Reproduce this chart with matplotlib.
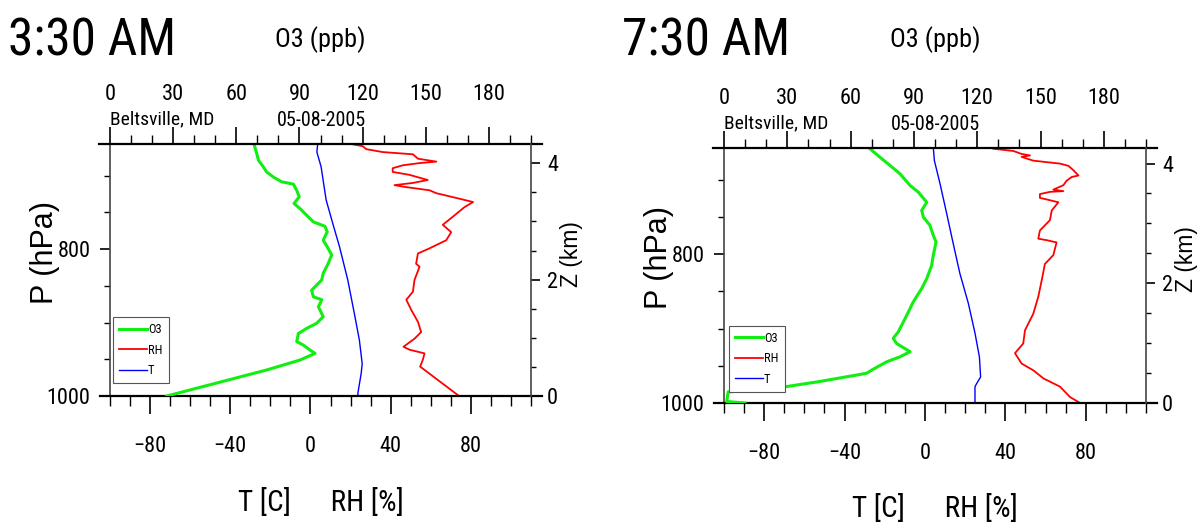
import matplotlib.pyplot as plt
from matplotlib.ticker import MultipleLocator, FixedLocator

# narrow face first, whichever of them is installed
plt.rcParams['font.family'] = ['Roboto Condensed', 'Liberation Sans Narrow', 'DejaVu Sans']
plt.rcParams['font.stretch'] = 'condensed'

# ---- 3:30 AM profile (pressure in hPa) ----
am3_o3_p = [657, 670, 679, 688, 695, 702, 708.5, 711.6, 720, 729, 738, 745, 754, 763, 769, 776.5,
            788, 797, 808, 819.5, 833, 842, 856, 865, 869, 878.5, 892, 901, 908, 915, 926, 930.6,
            937.4, 942, 951, 964.6, 1000]
am3_o3 = [68.4, 69.7, 70.5, 72.8, 74.4, 77.6, 81.6, 87.1, 88.7, 89.9, 87.4, 90.3, 93.4, 96.6, 102.1, 103.2,
          101.3, 103.2, 105.3, 103.7, 101.3, 100.6, 95.8, 96.6, 100.6, 99.0, 101.3, 98.2, 93.4, 89.5, 88.7, 91.8,
          95.0, 97.4, 90.3, 74.4, 27]
am3_t_p = [657, 668, 688, 733, 765, 797, 842, 888, 924, 956, 969, 997, 1000]
am3_t = [3.6, 3.2, 5.3, 7.8, 11.1, 14.5, 18.6, 21.9, 24.4, 25.8, 25.3, 23.6, 23.8]
am3_rh_p = [657, 660, 664, 668, 671, 677, 681, 683, 686, 690, 695, 699, 706, 710, 713, 715,
            720, 724, 731, 736, 743, 756, 767, 777, 788, 799, 806, 820, 824, 842, 858, 869,
            883, 899, 913, 922, 933, 937, 942, 951, 960, 1000]
am3_rh = [20.3, 26.1, 27.8, 36.1, 51.1, 53.6, 62.8, 54.4, 46.0, 41.0, 41.0, 49.4, 58.5, 51.1, 41.9, 46.0,
          59.4, 62.8, 73.6, 81.1, 76.8, 71.0, 66.0, 70.2, 67.7, 59.4, 53.6, 52.7, 54.4, 51.9, 51.1, 47.8,
          50.3, 53.6, 55.2, 51.9, 46.4, 49.4, 56.9, 56.0, 54.7, 74.1]

# ---- 7:30 AM profile ----
am7_o3_p = [658, 669.4, 680.5, 691.7, 707.4, 716.4, 730, 741, 750, 761, 774.5, 783.5, 801.3, 815,
            832.6, 846, 864, 877.5, 891, 904.3, 913, 920, 931, 937.9, 944.6, 954.4, 960, 971, 982,
            985, 998, 1000]
am7_o3 = [69.2, 73.9, 78.7, 83.4, 88.2, 92.1, 96.1, 93.7, 94.5, 97.6, 99.2, 100.5, 99.2, 98.4,
          96.1, 93.7, 89.7, 87.4, 85.0, 82.6, 80.2, 81.8, 88.2, 83.4, 77.1, 70.8, 67.6, 45.5, 20.2,
          2.0, 1.3, 10]
am7_t_p = [658, 674, 705, 745, 786, 826, 866, 906, 938, 965, 974, 978, 1000]
am7_t = [4.2, 4.7, 7.5, 10.8, 14.1, 17.4, 21.6, 24.9, 27.1, 27.7, 25.7, 24.9, 24.9]
am7_rh_p = [658, 661, 665, 667, 669, 674, 678, 681, 687, 694, 696, 701, 707, 713, 715, 716,
            719, 724, 730, 741, 754, 768, 779, 781, 784, 801, 813, 835, 857, 880, 902, 920,
            933, 947, 956, 967, 978, 992, 1000]
am7_rh = [34.0, 44.0, 48.1, 52.3, 48.1, 53.9, 67.2, 71.4, 73.9, 76.4, 73.0, 70.5, 68.9, 63.9, 68.9, 62.2,
          57.2, 57.2, 66.4, 63.1, 62.2, 57.2, 56.4, 60.6, 65.5, 63.9, 59.7, 58.1, 56.4, 53.9, 49.8, 48.9,
          44.8, 48.1, 53.9, 59.0, 67.2, 72.2, 77.2]

W, H = 1200, 529
fig = plt.figure(figsize=(12, 5.29), dpi=100)


def fx(x):
    return x / W


def fy(y):
    return 1 - y / H


def draw_panel(box, ztop, title, o3_p, o3, rh_p, rh, t_p, t, leg_anchor):
    x0, y0, x1, y1 = box
    ax = fig.add_axes([fx(x0), fy(y1), (x1 - x0) / W, (y1 - y0) / H])

    # bottom axis: T and RH
    l_rh, = ax.plot(rh, rh_p, color='#ff0000', lw=1.3, label='RH')
    l_t, = ax.plot(t, t_p, color='#0000ff', lw=1.0, label='T')
    ax.set_xlim(-100, 110)
    ax.set_ylim(1000, 657)
    ax.xaxis.set_major_locator(FixedLocator([-80, -40, 0, 40, 80]))
    ax.xaxis.set_minor_locator(MultipleLocator(10))
    ax.yaxis.set_major_locator(FixedLocator([800, 1000]))
    ax.yaxis.set_minor_locator(MultipleLocator(50))
    ax.tick_params(axis='x', which='major', direction='out', length=13, width=1.2, pad=16, labelsize=16)
    ax.tick_params(axis='x', which='minor', direction='out', length=7, width=1)
    ax.tick_params(axis='y', which='major', direction='out', length=7, width=1.2, pad=7, labelsize=16)
    ax.tick_params(axis='y', which='minor', direction='out', length=4, width=1)
    ax.spines['top'].set_visible(False)
    ax.spines['right'].set_visible(False)
    ax.spines['bottom'].set_linewidth(1.6)
    ax.spines['bottom'].set_bounds(-105, 115.5)
    ax.spines['left'].set_linewidth(1.2)
    ax.spines['left'].set_color('#444444')

    # top axis: O3
    ax_top = ax.twiny()
    l_o3, = ax_top.plot(o3, o3_p, color='#11ee11', lw=2.2, label='O3')
    ax_top.set_xlim(0, 200)
    ax_top.xaxis.set_major_locator(FixedLocator([0, 30, 60, 90, 120, 150, 180]))
    ax_top.xaxis.set_minor_locator(MultipleLocator(10))
    ax_top.tick_params(axis='x', which='major', direction='out', length=12, width=1.2, pad=16, labelsize=16)
    ax_top.tick_params(axis='x', which='minor', direction='out', length=6.5, width=1)
    for s in ['bottom', 'left', 'right']:
        ax_top.spines[s].set_visible(False)
    ax_top.spines['top'].set_linewidth(1.6)
    ax_top.spines['top'].set_bounds(-5, 205)

    # right axis: height
    ax_z = ax.twinx()
    ax_z.set_ylim(0, ztop)
    ax_z.yaxis.set_major_locator(FixedLocator([0, 2, 4]))
    ax_z.yaxis.set_minor_locator(MultipleLocator(0.5))
    ax_z.tick_params(axis='y', which='major', direction='out', length=6.5, width=1.2, pad=5, labelsize=16)
    ax_z.tick_params(axis='y', which='minor', direction='out', length=3.6, width=1)
    for s in ['bottom', 'left', 'top']:
        ax_z.spines[s].set_visible(False)
    ax_z.spines['right'].set_linewidth(1.2)
    ax_z.spines['right'].set_color('#444444')

    leg = ax_z.legend(handles=[l_o3, l_rh, l_t], loc='lower left', bbox_to_anchor=leg_anchor,
                      fontsize=9, handlelength=2.2, handletextpad=0.1, labelspacing=0.6,
                      borderaxespad=0, fancybox=False, framealpha=1, borderpad=0.5)
    leg.get_frame().set_edgecolor('#555555')
    leg.get_frame().set_linewidth(0.8)

    cx = (x0 + x1) / 2
    fig.text(fx(x0 - 102), fy(55), title, fontsize=37, ha='left', va='baseline')
    fig.text(fx(cx), fy(40), 'O3 (ppb)', fontsize=19, ha='center', va='center')
    fig.text(fx(x0), fy(y0 - 20), 'Beltsville, MD', fontsize=14, ha='left', va='baseline')
    fig.text(fx(x0 + 211), fy(y0 - 18), '05-08-2005', fontsize=14.5, ha='center', va='baseline')
    fig.text(fx(cx), fy(y1 + 106), 'T [C]      RH [%]', fontsize=21, ha='center', va='center')
    fig.text(fx(x0 - 65), fy((y0 + y1) / 2 - 18), 'P (hPa)', fontsize=22, family='Liberation Sans',
             stretch='normal', rotation=90, ha='center', va='center')
    fig.text(fx(x1 + 40.5), fy((y0 + y1) / 2 - 16), 'Z (km)', fontsize=16.5, family='Liberation Sans',
             stretch='normal', rotation=90, ha='center', va='center')


draw_panel((110, 144, 531, 396), 4.33, '3:30 AM', am3_o3_p, am3_o3, am3_rh_p, am3_rh,
           am3_t_p, am3_t, (0.007, 0.05))
draw_panel((724, 148, 1146, 403), 4.26, '7:30 AM', am7_o3_p, am7_o3, am7_rh_p, am7_rh,
           am7_t_p, am7_t, (0.012, 0.043))

fig.savefig('out.png', dpi=100)
